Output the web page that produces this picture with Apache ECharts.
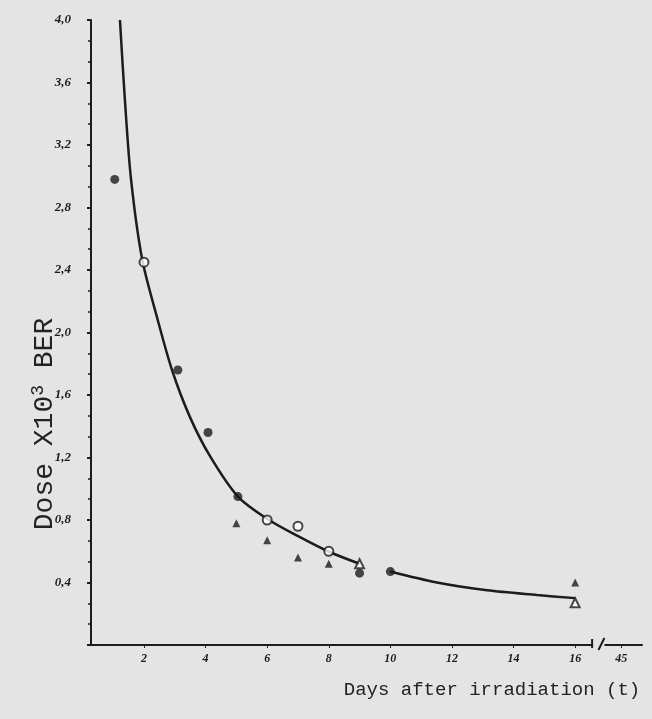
<!DOCTYPE html>
<html>
<head>
<meta charset="utf-8">
<script src="https://cdn.jsdelivr.net/npm/echarts@6/dist/echarts.min.js"></script>
<style>
  html, body { margin: 0; padding: 0; background: #e4e4e4; }
  #chart { width: 652px; height: 719px; }
</style>
</head>
<body>
<div id="chart"></div>
<script>
// fitted curve (days, dose x10^3 BER); '-' splits the line where the drawing has a gap
const curveDays = [1.22, 1.38, 1.58, 1.94, 2.42, 2.91, 3.49, 4.14, 5.05, 6.06, 6.97, 7.97, 9.0, 9.5, 9.99, 11.51, 13.14, 14.76, 16.0]
const curveDose = [4.0, 3.49, 2.98, 2.47, 2.1, 1.76, 1.46, 1.21, 0.95, 0.8, 0.7, 0.6, 0.52, '-', 0.47, 0.4, 0.35, 0.32, 0.3]

// measured points
const openCircleDays = [2, 6, 7, 8]
const openCircleDose = [2.45, 0.8, 0.76, 0.6]
const dotDays = [1.05, 3.1, 4.08, 5.05, 9.0, 10.0]
const dotDose = [2.98, 1.76, 1.36, 0.95, 0.46, 0.47]
const triDays = [5, 6, 7, 8, 16]
const triDose = [0.78, 0.67, 0.56, 0.52, 0.4]
const openTriDays = [9, 16]
const openTriDose = [0.52, 0.27]

// axis ticks
const xTicks = [2, 4, 6, 8, 10, 12, 14, 16, 17.5]
const xTickText = ['2', '4', '6', '8', '10', '12', '14', '16', '45']
const yTickText = ['4,0', '3,6', '3,2', '2,8', '2,4', '2,0', '1,6', '1,2', '0,8', '0,4']

const ink = '#1c1c1c'
const pairs = (a, b) => a.map((v, i) => [v, b[i]])

const myChart = echarts.init(document.getElementById('chart'))
const option = {
  backgroundColor: '#e4e4e4',
  animation: false,
  grid: { left: 91, right: 10, top: 20, bottom: 74 },
  xAxis: {
    type: 'value',
    min: 0.28,
    max: 18.17,
    splitLine: { show: false },
    axisLine: { onZero: false, lineStyle: { color: ink, width: 2 } },
    axisTick: { customValues: xTicks, length: 3, lineStyle: { color: ink } },
    axisLabel: {
      customValues: xTicks,
      margin: 8,
      color: ink,
      fontFamily: 'Liberation Serif',
      fontStyle: 'italic',
      fontWeight: 'bold',
      fontSize: 12,
      formatter: (v) => xTickText[xTicks.indexOf(v)] || ''
    }
  },
  yAxis: {
    type: 'value',
    min: 0,
    max: 4.0,
    interval: 0.4,
    splitLine: { show: false },
    axisLine: { show: true, onZero: false, lineStyle: { color: ink, width: 2 } },
    axisTick: { show: true, length: 4, lineStyle: { color: ink, width: 2 } },
    minorTick: { show: true, splitNumber: 3, length: 3, lineStyle: { color: ink, width: 1.5 } },
    axisLabel: {
      margin: 20,
      color: ink,
      fontFamily: 'Liberation Serif',
      fontStyle: 'italic',
      fontWeight: 'bold',
      fontSize: 13,
      formatter: (v) => {
        if (v === 0) return ''
        const i = Math.round((4.0 - v) / 0.4)
        return yTickText[i] || ''
      }
    }
  },
  series: [
    {
      name: 'curve',
      type: 'line',
      smooth: 0.3,
      connectNulls: false,
      showSymbol: false,
      lineStyle: { color: ink, width: 2.5 },
      data: pairs(curveDays, curveDose),
      z: 2
    },
    {
      name: 'open circles',
      type: 'scatter',
      symbol: 'emptyCircle',
      symbolSize: 9,
      itemStyle: { color: ink, borderColor: ink, borderWidth: 1.8 },
      data: pairs(openCircleDays, openCircleDose),
      z: 3
    },
    {
      name: 'dots',
      type: 'scatter',
      symbol: 'circle',
      symbolSize: 9,
      itemStyle: { color: ink },
      data: pairs(dotDays, dotDose),
      z: 3
    },
    {
      name: 'triangles',
      type: 'scatter',
      symbol: 'triangle',
      symbolSize: 8,
      itemStyle: { color: ink },
      data: pairs(triDays, triDose),
      z: 3
    },
    {
      name: 'open triangles',
      type: 'scatter',
      symbol: 'emptyTriangle',
      symbolSize: 9,
      itemStyle: { color: ink, borderColor: ink, borderWidth: 1.6 },
      data: pairs(openTriDays, openTriDose),
      z: 3
    }
  ]
}
myChart.setOption(option)

// axis titles + break mark on the x axis
const bx0 = myChart.convertToPixel({ xAxisIndex: 0 }, 16.55)
const bx1 = myChart.convertToPixel({ xAxisIndex: 0 }, 16.95)
const by = myChart.convertToPixel({ yAxisIndex: 0 }, 0)
myChart.setOption({
  graphic: [
    {
      type: 'rect',
      shape: { x: bx0, y: by - 4, width: bx1 - bx0, height: 8 },
      style: { fill: '#e4e4e4' },
      z: 100
    },
    {
      type: 'line',
      shape: { x1: bx0, y1: by - 6, x2: bx0, y2: by + 3 },
      style: { stroke: ink, lineWidth: 2 },
      z: 101
    },
    {
      type: 'line',
      shape: { x1: bx1 - 6, y1: by + 5, x2: bx1, y2: by - 7 },
      style: { stroke: ink, lineWidth: 2 },
      z: 101
    },
    {
      type: 'text',
      x: 45,
      y: 424,
      rotation: Math.PI / 2,
      style: {
        text: 'Dose X10{sup|3} BER',
        align: 'center',
        verticalAlign: 'middle',
        fill: '#222',
        font: '28px "Liberation Mono"',
        rich: {
          sup: { fontSize: 18, fontFamily: 'Liberation Mono', verticalAlign: 'top', padding: [0, 0, 14, 0], fill: '#222' }
        }
      }
    },
    {
      type: 'text',
      x: 492,
      y: 690,
      style: {
        text: 'Days after irradiation (t)',
        align: 'center',
        verticalAlign: 'middle',
        fill: '#222',
        font: '19px "Liberation Mono"'
      }
    }
  ]
})
window.onresize = myChart.resize
</script>
</body>
</html>
